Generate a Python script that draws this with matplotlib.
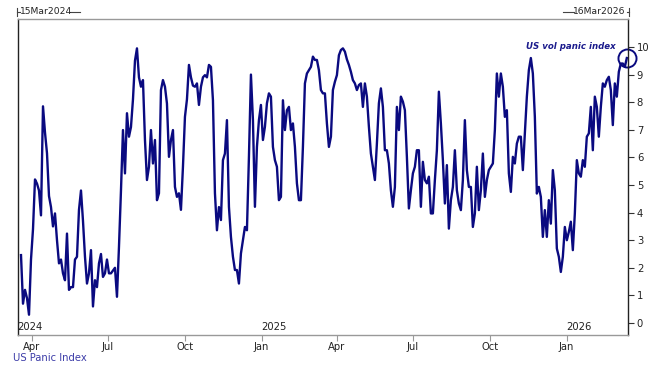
import matplotlib
matplotlib.use("Agg")
import matplotlib.pyplot as plt
from matplotlib.lines import Line2D
import pandas as pd

# Series, one value every ~2.4 calendar days
start_date = "2024-03-19"
end_date = "2026-03-14"
panic_values = [
    # Mar - Jul 2024
    2.46, 0.70, 1.20, 0.90, 0.30, 2.30, 3.40, 5.20, 5.05, 4.80,
    3.90, 7.85, 6.90, 6.15, 4.60, 4.20, 3.50, 3.97, 3.00, 2.16,
    2.30, 1.80, 1.55, 3.24, 1.20, 1.30, 1.30, 2.30, 2.40, 4.10,
    4.80, 3.70, 2.40, 1.43, 1.80, 2.64, 0.60, 1.55, 1.30, 2.16,
    2.50, 1.67, 1.80, 2.30, 1.80, 1.80, 1.90, 2.00, 0.95, 2.76,
    # Jul - Nov 2024
    4.80, 6.99, 5.42, 7.60, 6.75, 7.10, 8.10, 9.50, 9.95, 8.90,
    8.56, 8.80, 6.63, 5.18, 5.66, 6.99, 5.78, 6.63, 4.45, 4.70,
    8.44, 8.80, 8.56, 7.95, 6.02, 6.63, 6.99, 4.93, 4.57, 4.70,
    4.10, 5.66, 7.47, 8.10, 9.35, 8.90, 8.60, 8.56, 8.68, 7.90,
    8.56, 8.90, 8.98, 8.90, 9.35, 9.28, 8.07, 4.70, 3.36, 4.20,
    # Nov 2024 - Mar 2025
    3.73, 5.90, 6.14, 7.35, 4.21, 3.12, 2.40, 1.92, 1.92, 1.43,
    2.52, 3.00, 3.48, 3.36, 6.02, 9.00, 7.35, 4.21, 6.38, 7.35,
    7.90, 6.63, 7.11, 7.96, 8.32, 8.20, 6.38, 5.90, 5.66, 4.45,
    4.57, 8.07, 6.99, 7.71, 7.83, 6.99, 7.23, 6.38, 5.06, 4.45,
    4.45, 6.38, 8.68, 9.04, 9.16, 9.28, 9.65, 9.53, 9.53, 9.16,
    # Mar - Jul 2025
    8.44, 8.32, 8.32, 7.23, 6.38, 6.75, 8.44, 8.74, 8.98, 9.70,
    9.89, 9.95, 9.83, 9.55, 9.35, 9.10, 8.80, 8.68, 8.44, 8.62,
    8.68, 7.83, 8.68, 8.20, 7.11, 6.14, 5.66, 5.18, 6.50, 7.96,
    8.50, 7.83, 6.26, 6.26, 5.78, 4.81, 4.21, 4.93, 7.83, 6.99,
    8.20, 8.02, 7.71, 6.02, 4.15, 4.81, 5.42, 5.66, 6.26, 6.26,
    # Jul - Nov 2025
    4.21, 5.84, 5.18, 5.06, 5.30, 3.97, 3.97, 5.18, 6.26, 8.38,
    7.23, 5.90, 4.33, 5.72, 3.42, 4.45, 4.93, 6.26, 4.81, 4.33,
    4.09, 5.18, 7.35, 5.54, 4.93, 4.93, 3.48, 3.97, 5.66, 4.09,
    4.81, 6.14, 4.57, 5.18, 5.54, 5.66, 5.78, 6.99, 9.04, 8.20,
    9.04, 8.56, 7.47, 7.71, 5.42, 4.75, 6.02, 5.78, 6.50, 6.75,
    # Nov 2025 - Mar 2026
    6.75, 5.54, 6.87, 8.20, 9.16, 9.60, 9.04, 7.47, 4.69, 4.93,
    4.57, 3.12, 4.09, 3.12, 4.45, 3.60, 5.54, 4.81, 2.70, 2.40,
    1.85, 2.40, 3.48, 3.00, 3.30, 3.67, 2.64, 3.97, 5.90, 5.42,
    5.30, 5.90, 5.66, 6.75, 6.87, 7.83, 6.26, 8.20, 7.83, 6.75,
    7.83, 8.68, 8.56, 8.80, 8.92, 8.44, 7.17, 8.68, 8.20, 9.10,
    9.40, 9.40, 9.28, 9.60,
]
dates = pd.date_range(start_date, end_date, periods=len(panic_values))

x_start = pd.Timestamp("2024-03-15")
x_end = pd.Timestamp("2026-03-16")
y_ticks = list(range(0, 11))
month_ticks = pd.to_datetime(["2024-04-01", "2024-07-01", "2024-10-01", "2025-01-01",
                              "2025-04-01", "2025-07-01", "2025-10-01", "2026-01-01"])
month_labels = ["Apr", "Jul", "Oct", "Jan", "Apr", "Jul", "Oct", "Jan"]
year_labels = ["2024", "2025", "2026"]
year_positions = [x_start, pd.Timestamp("2025-01-01"), pd.Timestamp("2026-01-01")]

line_color = "#0a0a80"
text_color = "#222222"

fig = plt.figure(figsize=(6.54, 3.82), dpi=100)
ax = fig.add_axes([0.027, 0.123, 0.934, 0.827])

ax.plot(dates, panic_values, color=line_color, linewidth=1.7)

# circle round the latest reading
ax.plot(dates[-1], panic_values[-1], marker="o", markersize=13, fillstyle="none",
        markeredgecolor=line_color, markeredgewidth=1.4, clip_on=False)
ax.text(dates[-1] - pd.Timedelta(days=13), 10.0, "US vol panic index", color="#1a1a8c",
        fontsize=6.2, fontstyle="italic", fontweight="bold", ha="right", va="center")

ax.set_xlim(x_start, x_end)
ax.set_ylim(-0.435, 11.01)

ax.yaxis.tick_right()
ax.set_yticks(y_ticks)
ax.tick_params(axis="y", direction="out", length=4, width=0.8, color="#333333",
               labelsize=7.2, labelcolor=text_color, pad=2)
ax.set_xticks(month_ticks)
ax.set_xticklabels(month_labels)
ax.tick_params(axis="x", direction="out", length=4, width=0.8, color="#999999",
               labelsize=7.2, labelcolor=text_color, pad=1)

for side in ["top", "bottom"]:
    ax.spines[side].set_color("#999999")
    ax.spines[side].set_linewidth(1.0)
for side in ["left", "right"]:
    ax.spines[side].set_color("#222222")
    ax.spines[side].set_linewidth(1.0)

for pos, lab in zip(year_positions, year_labels):
    ax.text(pos, -0.33, lab, fontsize=7.2, color=text_color, ha="left", va="bottom")

# range labels above the frame
fig.text(20 / 654, 1 - 12 / 382, "15Mar2024", fontsize=6.6, color=text_color,
         ha="left", va="center")
fig.text(625 / 654, 1 - 12 / 382, "16Mar2026", fontsize=6.6, color=text_color,
         ha="right", va="center")
for xs, ys in [([17, 17], [8, 16]), ([17, 20], [12, 12]), ([70, 80], [12, 12]),
               ([563, 574], [12, 12]), ([627, 629], [12, 12]), ([629, 629], [8, 16])]:
    fig.add_artist(Line2D([x / 654 for x in xs], [1 - y / 382 for y in ys],
                          color="#444444", linewidth=0.8))

fig.text(13 / 654, 1 - 358 / 382, "US Panic Index", fontsize=7.2, color="#3c3ca8",
         ha="left", va="center")

plt.savefig("out.png", dpi=100)
